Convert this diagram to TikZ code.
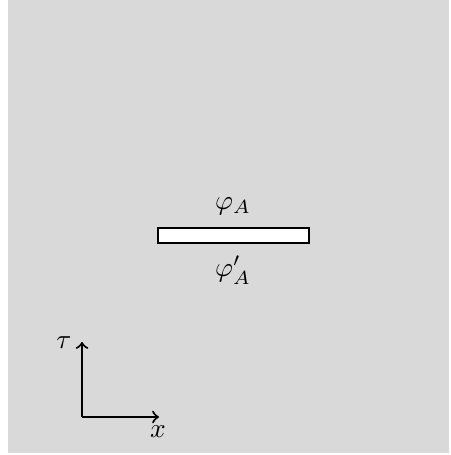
\documentclass[tikz,border=0pt]{standalone}
\begin{document}
\begin{tikzpicture}[x=0.365pt,y=-0.365pt,
  axis/.style={draw=black,line width=0.75pt,->},
  lbl/.style={inner sep=0pt,font=\normalsize}]
\useasboundingbox (0,0) rectangle (451,455);
\fill[black!15] (8,0) rectangle (449,453);
\node[draw=black,fill=white,line width=0.7pt,minimum width=151*0.365pt,minimum height=15.5*0.365pt,inner sep=0pt,anchor=center] (bar) at (233.5,235.5) {};
\node[lbl] (phiA) at (233,206) {$\varphi_A$};
\node[lbl] (phiAp) at (233,270) {$\varphi'_A$};
\coordinate (o) at (82,417);
\coordinate (t) at (82,342);
\coordinate (xx) at (159,417);
\draw[axis] (o) -- (t);
\draw[axis] (o) -- (xx);
\node[lbl] (tau) at (64,343) {$\tau$};
\node[lbl] (xl) at (158,432) {$x$};
\end{tikzpicture}
\end{document}
